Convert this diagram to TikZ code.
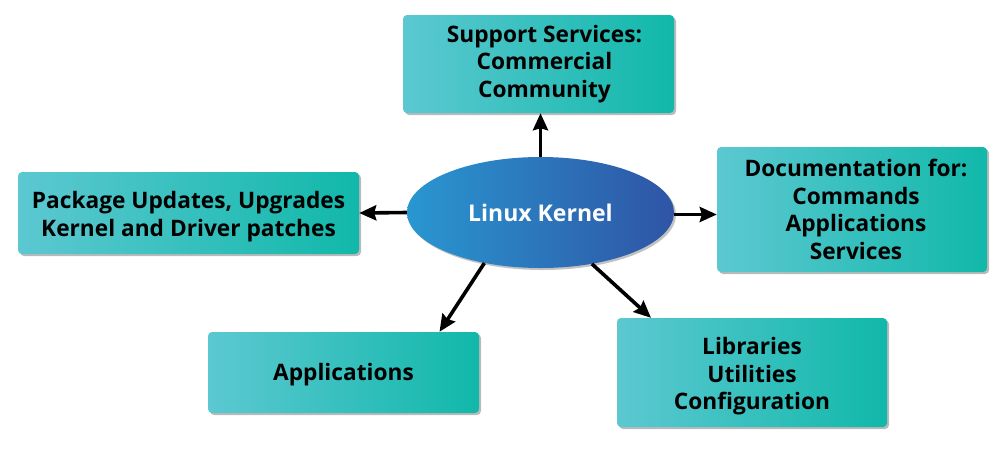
\documentclass[tikz,border=0pt]{standalone}
\usepackage{fontspec}
\setmainfont{Open Sans}
\usetikzlibrary{shapes.geometric,shadows,arrows.meta}
\definecolor{boxL}{HTML}{5CC8D1}
\definecolor{boxR}{HTML}{11B8AA}
\definecolor{kerL}{HTML}{2997D1}
\definecolor{kerR}{HTML}{2F54A6}
\newcommand{\topstrut}[1]{\rule{0pt}{#1}}
\tikzset{
  infobox/.style={rectangle, rounded corners=4pt, inner sep=0pt, align=center,
    left color=boxL, right color=boxR, text=black,
    font=\fontsize{22.7}{27.5}\selectfont\bfseries,
    drop shadow={shadow xshift=2pt, shadow yshift=-2pt, opacity=0.45, fill=black!60}},
  kernel/.style={ellipse, inner sep=0pt, minimum width=267pt, minimum height=111pt,
    left color=kerL, right color=kerR, text=white,
    font=\fontsize{23}{27.5}\selectfont\bfseries,
    drop shadow={shadow xshift=2pt, shadow yshift=-2pt, opacity=0.4, fill=black!60}},
  arr/.style={line width=3.6pt, -{Stealth[length=17pt,width=15pt,inset=2pt]}}
}
\begin{document}
\begin{tikzpicture}[x=1pt,y=-1pt]
\useasboundingbox (0,0) rectangle (1000,451);
\node[kernel] (k) at (540.5,212.5) {Linux Kernel};
\node[infobox, minimum width=271pt, minimum height=98pt] (top) at (538.5,64) {\hspace*{12pt}Support Services:\\\hspace*{12pt}Commercial\\\hspace*{12pt}Community};
\node[infobox, minimum width=341pt, minimum height=82pt] (left) at (188.5,213) {\topstrut{24pt}Package Updates, Upgrades\\Kernel and Driver patches};
\node[infobox, minimum width=270pt, minimum height=125pt] (right) at (852,209.5) {\hspace*{8pt}Documentation for:\\\hspace*{8pt}Commands\\\hspace*{8pt}Applications\\\hspace*{8pt}Services};
\node[infobox, minimum width=271pt, minimum height=81pt] (bl) at (343.5,372.5) {\topstrut{21pt}Applications};
\node[infobox, minimum width=270pt, minimum height=109pt] (br) at (752,372.5) {\topstrut{25pt}Libraries\\Utilities\\Configuration};
\draw[arr] (k.north) -- (k.north |- top.south);
\draw[arr] (k.west) -- (left.east);
\draw[arr] ([yshift=-2pt]k.east) -- ([yshift=-2pt]right.west |- k.east);
\draw[arr] (k.-138) -- ([xshift=96pt]bl.north);
\draw[arr] (k.-45) -- ([xshift=-101pt]br.north);
\end{tikzpicture}
\end{document}
